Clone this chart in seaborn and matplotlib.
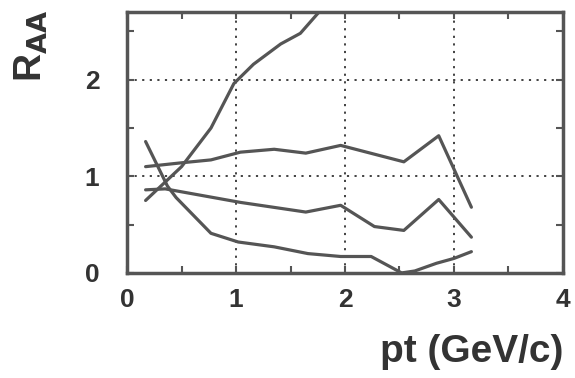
import numpy as np
import pandas as pd
import matplotlib
matplotlib.use("Agg")
import matplotlib.pyplot as plt
import seaborn as sns

# Curve data
rise_x = [0.17, 0.50, 0.77, 0.98, 1.16, 1.41, 1.59, 1.80]
rise_y = [0.75, 1.10, 1.50, 1.96, 2.16, 2.37, 2.48, 2.75]

upper_x = [0.17, 0.50, 0.77, 1.04, 1.35, 1.64, 1.96, 2.54, 2.86, 3.16]
upper_y = [1.10, 1.14, 1.17, 1.25, 1.28, 1.24, 1.32, 1.15, 1.42, 0.68]

middle_x = [0.17, 0.35, 1.04, 1.64, 1.96, 2.27, 2.54, 2.86, 3.16]
middle_y = [0.86, 0.87, 0.73, 0.63, 0.70, 0.48, 0.44, 0.76, 0.37]

fall_x = [0.17, 0.37, 0.45, 0.77, 1.02, 1.35, 1.66, 1.96, 2.24, 2.52, 2.64, 2.84, 3.00, 3.16]
fall_y = [1.36, 0.90, 0.78, 0.41, 0.32, 0.27, 0.20, 0.17, 0.17, 0.00, 0.02, 0.10, 0.15, 0.22]

frames = []
for name, xs, ys in [("rise", rise_x, rise_y), ("upper", upper_x, upper_y),
                     ("middle", middle_x, middle_y), ("fall", fall_x, fall_y)]:
    frames.append(pd.DataFrame({"pt": xs, "raa": ys, "curve": name}))
df = pd.concat(frames, ignore_index=True)

sns.set_style("ticks")
plt.rcParams['font.family'] = ['Liberation Sans', 'DejaVu Sans']

fig = plt.figure(figsize=(5.75, 3.78), dpi=100)
ax = fig.add_axes([0.221, 0.278, 0.758, 0.690])

col = "#555555"
sns.lineplot(data=df, x="pt", y="raa", units="curve", estimator=None,
             color=col, linewidth=2.3, sort=False, ax=ax, legend=False)

ax.set_xlim(0, 4)
ax.set_ylim(0, 2.7)
ax.set_xticks([0, 1, 2, 3, 4])
ax.set_yticks([0, 1, 2])
ax.set_xticks([0.5, 1.5, 2.5, 3.5], minor=True)
ax.set_yticks([0.5, 1.5, 2.5], minor=True)
ax.grid(True, which="major", linestyle=(0, (1.2, 3)), color="#333333", linewidth=1.3)
ax.tick_params(which="both", direction="in", top=True, right=True,
               color="#555555", width=1.5)
ax.tick_params(which="major", length=5, labelsize=19, labelcolor="#333333")
ax.tick_params(axis="x", which="major", pad=11)
ax.tick_params(axis="y", which="major", pad=20)
ax.tick_params(which="minor", length=5)
for lab in ax.get_xticklabels() + ax.get_yticklabels():
    lab.set_fontweight("bold")
for s in ax.spines.values():
    s.set_linewidth(2.5)
    s.set_color("#555555")

ax.set_xlabel("")
ax.set_ylabel("")
fig.text(0.979, 0.02, "pt (GeV/c)", ha="right", va="bottom", fontsize=28,
         fontweight="bold", color="#333333")
fig.text(0.055, 0.88, r"R$_{\mathbf{AA}}$", rotation=90, ha="center", va="center",
         fontsize=28, color="#333333", fontweight="bold")

fig.savefig("out.png", dpi=100)
